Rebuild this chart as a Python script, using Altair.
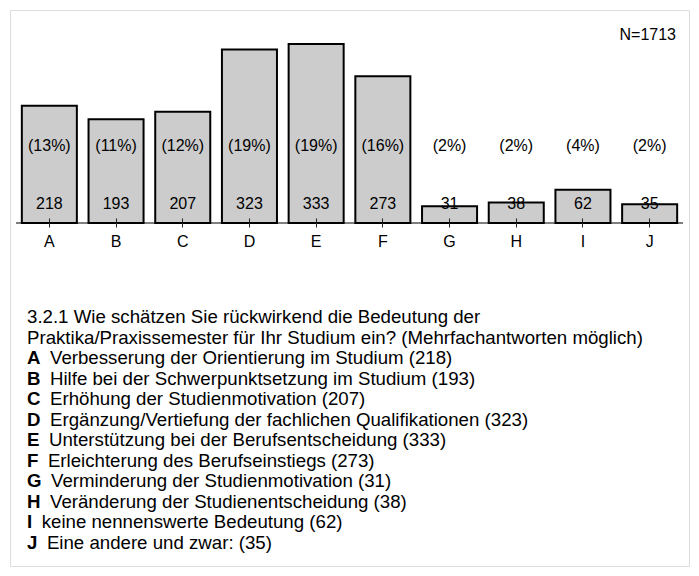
import altair as alt
import pandas as pd

letters = ["A", "B", "C", "D", "E", "F", "G", "H", "I", "J"]
counts = [218, 193, 207, 323, 333, 273, 31, 38, 62, 35]
percents = [13, 11, 12, 19, 19, 16, 2, 2, 4, 2]
descriptions = [
    "Verbesserung der Orientierung im Studium",
    "Hilfe bei der Schwerpunktsetzung im Studium",
    "Erhöhung der Studienmotivation",
    "Ergänzung/Vertiefung der fachlichen Qualifikationen",
    "Unterstützung bei der Berufsentscheidung",
    "Erleichterung des Berufseinstiegs",
    "Verminderung der Studienmotivation",
    "Veränderung der Studienentscheidung",
    "keine nennenswerte Bedeutung",
    "Eine andere und zwar:",
]
question_lines = [
    "3.2.1 Wie schätzen Sie rückwirkend die Bedeutung der",
    "Praktika/Praxissemester für Ihr Studium ein? (Mehrfachantworten möglich)",
]
total_n = 1713

FONT = "Liberation Sans"
FS = 16          # chart texts
FS_TXT = 18.67   # question / legend texts
# Arial-bold advance widths (em) used to indent the description after the bold letter
bold_w = {"A": .722, "B": .722, "C": .722, "D": .722, "E": .667, "F": .611,
          "G": .778, "H": .722, "I": .278, "J": .556}
LEFT = 17
GAP = 9.5

bars = pd.DataFrame({
    "letter": letters,
    "count": counts,
    "pct": [f"({p}%)" for p in percents],
})

rows = []
for i, q in enumerate(question_lines):
    rows.append({"row": i, "letter": "", "desc": q, "indent": LEFT})
for j, (l, d, c) in enumerate(zip(letters, descriptions, counts)):
    rows.append({"row": len(question_lines) + j, "letter": l,
                 "desc": f"{d} ({c})", "indent": LEFT + bold_w[l] * FS_TXT + GAP})
lines = pd.DataFrame(rows)

ntext = pd.DataFrame({"t": [f"N={total_n}"]})
base = pd.DataFrame({"zero": [0]})

W, H = 679, 556
x_scale = alt.Scale(range=[6, 673], paddingInner=0.175, paddingOuter=0.0875)
y_scale = alt.Scale(domain=[0, 400], range=[213, -2])

x_axis = alt.X(
    "letter:N", sort=letters, title=None, scale=x_scale,
    axis=alt.Axis(labelAngle=0, offset=-348, domain=False, zindex=1,
                  tickColor="#222222", tickSize=9, tickWidth=1, labelPadding=6,
                  labelFontSize=FS, labelColor="black", labelFont=FONT, grid=False),
)
x_plain = alt.X("letter:N", sort=letters, title=None, scale=x_scale, axis=None)
y_enc = alt.Y("count:Q", scale=y_scale, axis=None)

base_layer = alt.Chart(base).mark_rule(color="#555555", strokeWidth=1.5).encode(
    y=alt.Y("zero:Q", scale=y_scale, axis=None), x=alt.value(6), x2=alt.value(673))

bar_layer = alt.Chart(bars).mark_bar(fill="#cccccc", stroke="black", strokeWidth=2).encode(
    x=x_axis, y=y_enc)

pct_layer = alt.Chart(bars).mark_text(fontSize=FS, font=FONT, baseline="middle", color="black").encode(
    x=x_plain, y=alt.value(136), text="pct:N")

cnt_layer = alt.Chart(bars).mark_text(fontSize=FS, font=FONT, baseline="middle", color="black").encode(
    x=x_plain, y=alt.value(194), text="count:Q")

n_layer = alt.Chart(ntext).mark_text(fontSize=FS, font=FONT, align="right", baseline="middle",
                                     color="black").encode(
    x=alt.value(666), y=alt.value(25), text="t:N")

row_y = alt.Y("row:Q", scale=alt.Scale(domain=[0, 11], range=[307, 533]), axis=None)

letter_layer = alt.Chart(lines).mark_text(fontSize=FS_TXT, font=FONT, fontWeight="bold", align="left",
                                          baseline="middle", color="black").encode(
    x=alt.value(LEFT), y=row_y, text="letter:N")

desc_layer = alt.Chart(lines).mark_text(fontSize=FS_TXT, font=FONT, align="left",
                                        baseline="middle", color="black").encode(
    x=alt.X("indent:Q", scale=None, axis=None), y=row_y, text="desc:N")

chart = alt.layer(
    base_layer, bar_layer, pct_layer, cnt_layer, n_layer, letter_layer, desc_layer
).resolve_scale(
    x="independent", y="independent"
).properties(
    width=W, height=H, padding=2, autosize=alt.AutoSizeParams(type="none")
).configure_view(
    stroke="#333333", strokeWidth=2
).configure(font=FONT)

chart.save("out.html", embed_options={"renderer": "svg", "actions": False})
